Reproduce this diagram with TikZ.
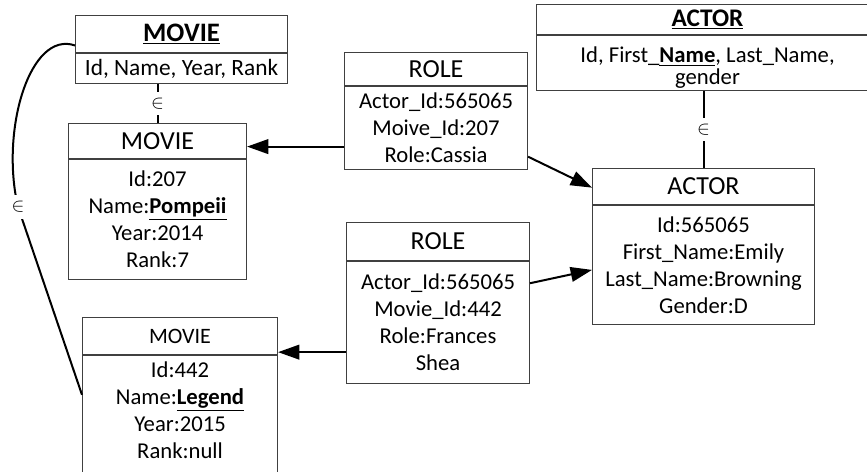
\documentclass[tikz,border=0pt]{standalone}
\usepackage{fontspec}
\setmainfont{Carlito}
\usetikzlibrary{arrows.meta,positioning,calc}
\definecolor{boxGray}{HTML}{404040}

\begin{document}
\begin{tikzpicture}[x=0.75pt, y=-0.75pt,
  enthead/.style={rectangle, draw=boxGray, line width=0.8pt, inner sep=0pt, anchor=north west, align=center, font=\fontsize{19.5}{23}\selectfont},
  entbody/.style={rectangle, draw=boxGray, line width=0.8pt, inner sep=0pt, align=center, font=\fontsize{17}{20.25}\selectfont},
  arrow/.style={-{Triangle[length=16pt, width=11pt]}, line width=1.5pt},
  member/.style={line width=1.5pt},
  memb/.style={fill=white, inner xsep=1pt, inner ysep=4.5pt, font=\fontsize{15}{17}\selectfont}
]
\useasboundingbox (0,0) rectangle (867,471);
% schema boxes
\node[enthead, minimum width=159pt, minimum height=27.75pt, font=\fontsize{20}{24}\selectfont\bfseries] (mSchemaHead) at (75,15) {\underline{MOVIE}};
\node[entbody, minimum width=159pt, minimum height=22.5pt, below=0pt of mSchemaHead, font=\fontsize{17.5}{21}\selectfont] (mSchemaBody) {Id, Name, Year, Rank};
\node[enthead, minimum width=256.5pt, minimum height=22.5pt, font=\fontsize{19}{23}\selectfont\bfseries] (aSchemaHead) at (536,4) {\underline{ACTOR}};
\node[entbody, minimum width=256.5pt, minimum height=36.75pt, below=0pt of aSchemaHead, font=\fontsize{17}{16.5}\selectfont, text height=37pt, text depth=4pt] (aSchemaBody) {Id, First\_\underline{\textbf{Name}}, Last\_Name,\\gender};
% instances
\node[enthead, minimum width=133.5pt, minimum height=26.25pt] (movieAHead) at (68,123) {MOVIE};
\node[entbody, minimum width=133.5pt, minimum height=90pt, below=0pt of movieAHead] (movieABody) {Id:207\\Name:\underline{\textbf{Pompeii}}\\Year:2014\\Rank:7};
\node[enthead, minimum width=146.25pt, minimum height=27.75pt, font=\fontsize{16.5}{20}\selectfont] (movieBHead) at (82,317) {MOVIE};
\node[entbody, minimum width=146.25pt, minimum height=102pt, below=0pt of movieBHead] (movieBBody) {Id:442\\Name:\underline{\textbf{Legend}}\\Year:2015\\Rank:null\\\mbox{}};
\node[enthead, minimum width=137.25pt, minimum height=24.75pt] (roleAHead) at (344,52) {ROLE};
\node[entbody, minimum width=137.25pt, minimum height=62.25pt, below=0pt of roleAHead] (roleABody) {Actor\_Id:565065\\Moive\_Id:207\\Role:Cassia};
\node[enthead, minimum width=137.25pt, minimum height=28.5pt] (roleBHead) at (346,222) {ROLE};
\node[entbody, minimum width=137.25pt, minimum height=91.5pt, below=0pt of roleBHead] (roleBBody) {Actor\_Id:565065\\Movie\_Id:442\\Role:Frances\\Shea};
\node[enthead, minimum width=166.5pt, minimum height=27pt] (actorAHead) at (592,168) {ACTOR};
\node[entbody, minimum width=166.5pt, minimum height=89.25pt, below=0pt of actorAHead] (actorABody) {Id:565065\\First\_Name:Emily\\Last\_Name:Browning\\Gender:D};
% membership links
\draw[member] (movieAHead.north) -- (movieAHead.north |- mSchemaBody.south) node[memb, midway] {$\in$};
\draw[member] (actorAHead.north) -- (actorAHead.north |- aSchemaBody.south) node[memb, midway] {$\in$};
\draw[member] ($(mSchemaHead.south west)!0.2!(mSchemaHead.north west)$) .. controls (30,30) and (0,130) .. (18,207) node[memb] {$\in$} -- ($(movieBBody.north west)!0.29!(movieBBody.south west)$);
% references
\draw[arrow] ($(roleABody.north west)!0.72!(roleABody.south west)$) coordinate (rA1) -- (rA1 -| movieAHead.east);
\draw[arrow] ($(roleABody.north east)!0.84!(roleABody.south east)$) -- ($(actorAHead.north west)!0.53!(actorAHead.south west)$);
\draw[arrow] ($(roleBBody.north east)!0.18!(roleBBody.south east)$) -- ($(actorABody.north west)!0.54!(actorABody.south west)$);
\draw[arrow] ($(roleBBody.north west)!0.74!(roleBBody.south west)$) coordinate (rB1) -- (rB1 -| movieBHead.east);
\end{tikzpicture}
\end{document}
